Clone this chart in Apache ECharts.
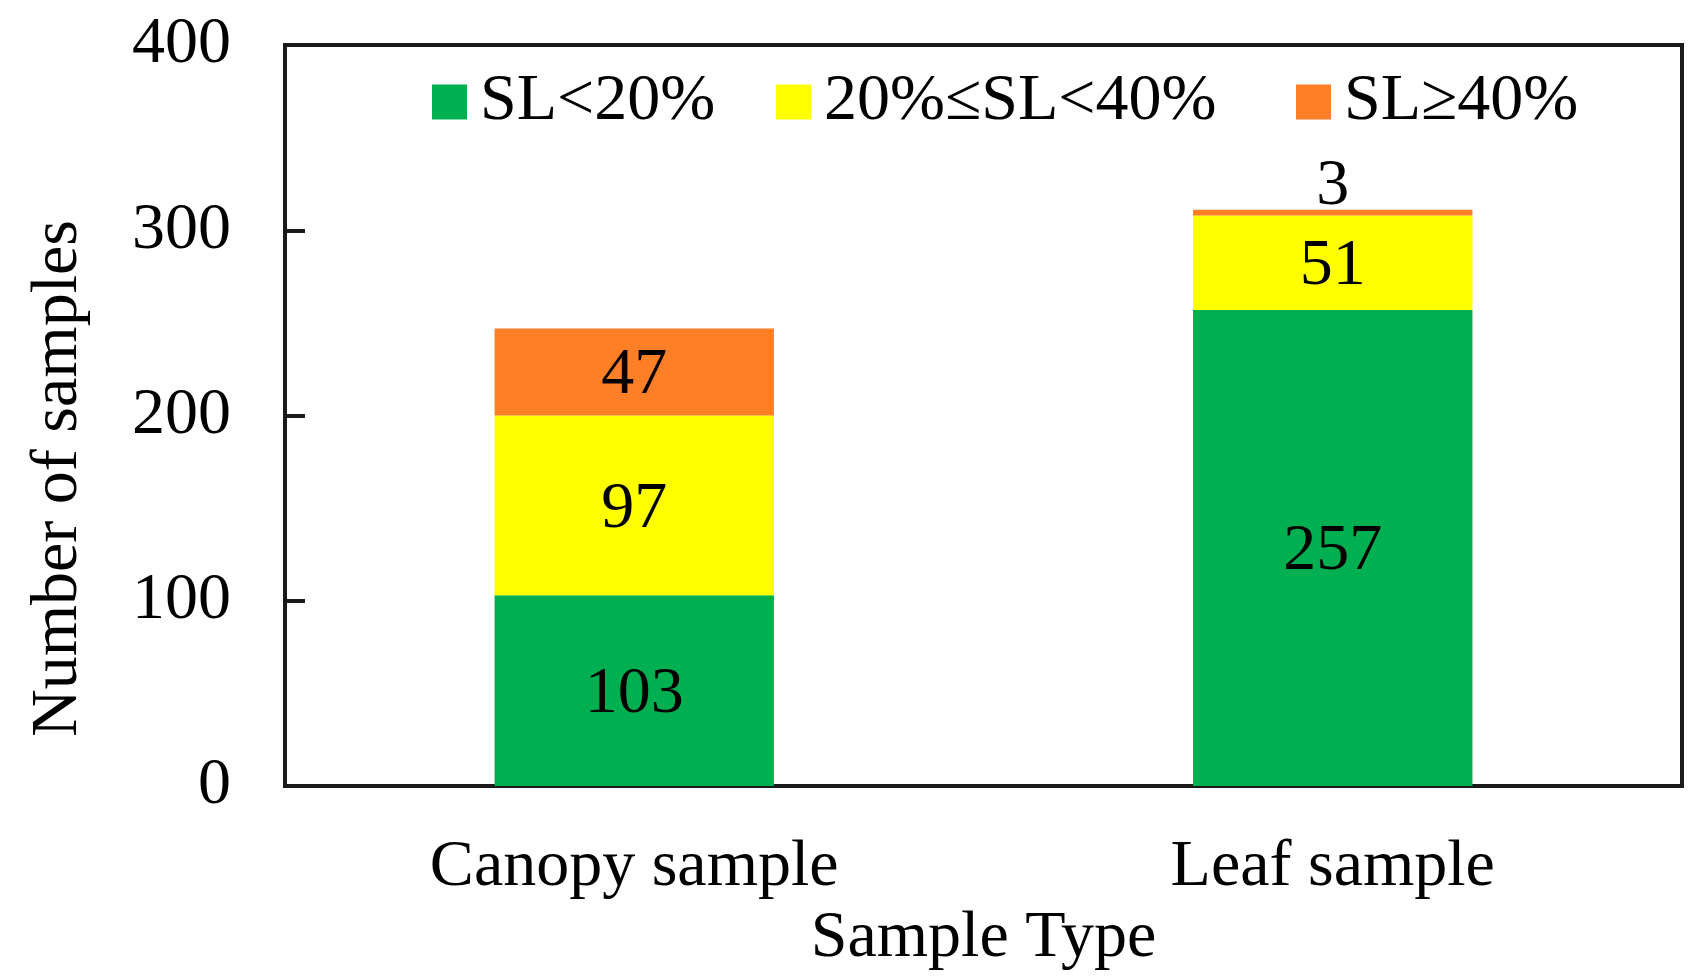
<!DOCTYPE html>
<html lang="en">
<head>
<meta charset="UTF-8">
<title>Number of samples by sample type</title>
<style>
  html, body { margin: 0; padding: 0; background: #fff; }
  #chart { width: 1705px; height: 980px; }
</style>
</head>
<body>
<div id="chart"></div>
<script src="https://cdn.jsdelivr.net/npm/echarts@6/dist/echarts.min.js"></script>
<script>
// data
var categories = ['Canopy sample', 'Leaf sample'];
var seriesNames = ['SL<20%', '20%\u2264SL<40%', 'SL\u226540%'];
var slLow = [103, 257];
var slMid = [97, 51];
var slHigh = [47, 3];
var yTicks = [0, 100, 200, 300, 400];

var FONT = "'Liberation Serif', 'Times New Roman', serif";
var colors = ['#00B050', '#FFFF00', '#FF7F27'];

// small segments get their label above the bar
function withLabels(arr) {
  return arr.map(function (v) {
    return v < 10 ? { value: v, label: { position: 'top', distance: -6 } } : v;
  });
}

function makeSeries(name, data, color) {
  return {
    name: name,
    type: 'bar',
    stack: 'total',
    barWidth: '40%',
    data: withLabels(data),
    itemStyle: { color: color },
    label: {
      show: true,
      position: 'inside',
      offset: [0, 4],
      color: '#000',
      fontFamily: FONT,
      fontSize: 66
    }
  };
}

function legendAt(left, name) {
  return {
    data: [name],
    left: left,
    top: 64,
    icon: 'rect',
    itemWidth: 35,
    itemHeight: 35,
    selectedMode: false,
    textStyle: { fontFamily: FONT, fontSize: 66, color: '#000', padding: [0, 0, 0, 8] }
  };
}

var chart = echarts.init(document.getElementById('chart'));
chart.setOption({
  animation: false,
  legend: [
    legendAt(427, seriesNames[0]),
    legendAt(771, seriesNames[1]),
    legendAt(1291, seriesNames[2])
  ],
  grid: {
    left: 285, right: 23, top: 45, bottom: 194,
    outerBoundsMode: 'none',
    show: true, borderColor: '#1a1a1a', borderWidth: 4
  },
  xAxis: {
    type: 'category',
    data: categories,
    name: 'Sample Type',
    nameLocation: 'middle',
    nameGap: 96,
    nameTextStyle: { fontFamily: FONT, fontSize: 66, color: '#000' },
    axisLine: { lineStyle: { color: '#1a1a1a', width: 4 } },
    axisTick: { inside: true, alignWithLabel: true, length: 11, lineStyle: { color: '#1a1a1a', width: 3 } },
    axisLabel: { fontFamily: FONT, fontSize: 66, color: '#000', margin: 49 }
  },
  yAxis: {
    type: 'value',
    min: yTicks[0],
    max: yTicks[yTicks.length - 1],
    interval: 100,
    name: 'Number of samples',
    nameLocation: 'middle',
    nameGap: 193,
    nameTextStyle: { fontFamily: FONT, fontSize: 66, color: '#000', padding: [0, 126, 0, 0] },
    splitLine: { show: false },
    axisLine: { show: true, lineStyle: { color: '#1a1a1a', width: 4 } },
    axisTick: { show: true, inside: true, length: 20, lineStyle: { color: '#1a1a1a', width: 4 } },
    axisLabel: { fontFamily: FONT, fontSize: 66, color: '#000', margin: 54 }
  },
  series: [
    makeSeries(seriesNames[0], slLow, colors[0]),
    makeSeries(seriesNames[1], slMid, colors[1]),
    makeSeries(seriesNames[2], slHigh, colors[2])
  ]
});
</script>
</body>
</html>
